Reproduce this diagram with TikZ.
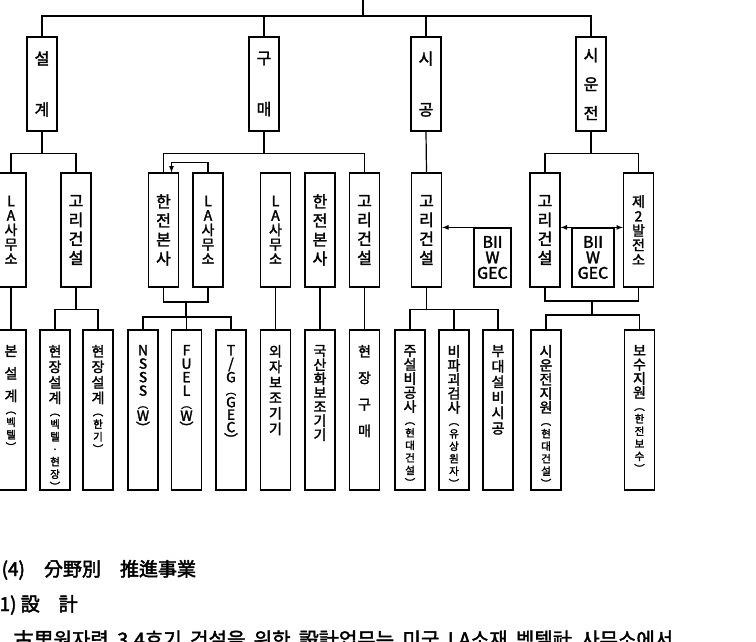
\documentclass[tikz,border=0pt]{standalone}
\usepackage{fontspec}
\setmainfont{Noto Sans CJK KR}
\newfontfamily\boxfont{Noto Sans CJK KR}[FakeBold=2]
\newfontfamily\headfont{Noto Sans CJK KR}[FakeBold=2.5]
\newcommand{\lowcol}[1]{\parbox[c][160pt][t]{30pt}{\centering\boxfont\fontsize{14}{14.5}\selectfont\vspace*{15pt}#1\par}}
\newcommand{\paren}[1]{\par{\fontsize{10.5}{12.5}\selectfont ︵\\#1\\︶\par}}
\begin{document}
\begin{tikzpicture}[x=1pt,y=-1pt,line width=1.2pt,>=latex,
    bus/.style={to path={-- ++(0,#1) -| (\tikztotarget)}}]
    \tikzstyle{head}=[draw,text width=30pt,align=center,inner sep=0pt,minimum height=94pt,font=\boxfont\fontsize{16}{16}\selectfont]
    \tikzstyle{mid}=[draw,text width=30pt,align=center,inner sep=0pt,minimum height=114pt,font=\boxfont\fontsize{16}{19}\selectfont]
    \tikzstyle{tight}=[font=\boxfont\fontsize{14}{14.5}\selectfont]
    \tikzstyle{firm}=[draw,align=center,inner sep=0pt,minimum height=59pt,font=\boxfont\fontsize{16}{15.5}\selectfont]
    \tikzstyle{low}=[draw,inner sep=0pt]
    \tikzstyle{prose}=[anchor=base west,inner sep=0pt]
    \useasboundingbox (0,0) rectangle (756,641);
    \clip (0,0) rectangle (756,641);
    \begin{scope}
        \coordinate (top) at (363,0);
        \node [head] (design) at (42,84) {설\\[35pt]계};
        \node [head] (purch) at (264,84) {구\\[35pt]매};
        \node [head] (constr) at (426,84) {시\\[35pt]공};
        \node [head] (comm) at (591,84) {시\\[13pt]운\\[13pt]전};

        \node [mid,tight] (dLA) at (11,230) {L\\A\\사\\무\\소};
        \node [mid] (dKori) at (76,230) {고\\리\\건\\설};
        \node [mid] (pKepco) at (163.5,230) {한\\전\\본\\사};
        \node [mid,tight] (pLA) at (208,230) {L\\A\\사\\무\\소};
        \node [mid,tight] (pLA2) at (275.5,230) {L\\A\\사\\무\\소};
        \node [mid] (pKepco2) at (320,230) {한\\전\\본\\사};
        \node [mid] (pKori) at (364.5,230) {고\\리\\건\\설};
        \node [mid] (cKori) at (426.5,230) {고\\리\\건\\설};
        \node [firm,text width=37pt] (cBW) at (492.5,257.5) {BII\\W\\GEC};
        \node [mid] (tKori) at (545,230) {고\\리\\건\\설};
        \node [firm,text width=42pt] (tBW) at (593,257.5) {BII\\W\\GEC};
        \node [mid,tight] (tPlant) at (638.5,230) {제\\2\\발\\전\\소};

        \node [low] (dMain) at (11,410) {\lowcol{본\\[8pt]설\\[8pt]계\paren{벡\\텔}}};
        \node [low] (dSite1) at (55,410) {\lowcol{현\\[1pt]장\\[1pt]설\\[1pt]계\paren{벡\\텔\\·\\현\\장}}};
        \node [low] (dSite2) at (98,410) {\lowcol{현\\[1pt]장\\[1pt]설\\[1pt]계\paren{한\\기}}};
        \node [low] (pNSSS) at (143,410) {\lowcol{N\\[-1pt]S\\[-1pt]S\\[-1pt]S\paren{\fontsize{14}{12.5}\selectfont W}}};
        \node [low] (pFuel) at (186.5,410) {\lowcol{F\\[-1pt]U\\[-1pt]E\\[-1pt]L\paren{\fontsize{14}{12.5}\selectfont W}}};
        \node [low] (pTG) at (231,410) {\lowcol{T\\[-1pt]/\\[-1pt]G\paren{\fontsize{14}{12.5}\selectfont G\\E\\C}}};
        \node [low] (pForeign) at (275.5,410) {\lowcol{외\\[1pt]자\\[1pt]보\\[1pt]조\\[1pt]기\\[1pt]기}};
        \node [low] (pLocal) at (320,410) {\lowcol{국\\[-0.5pt]산\\[-0.5pt]화\\[-0.5pt]보\\[-0.5pt]조\\[-0.5pt]기\\[-0.5pt]기}};
        \node [low] (pSite) at (364.5,410) {\lowcol{현\\[12pt]장\\[12pt]구\\[12pt]매}};
        \node [low] (cMain) at (410,410) {\lowcol{주\\[-0.5pt]설\\[-0.5pt]비\\[-0.5pt]공\\[-0.5pt]사\paren{현\\대\\건\\설}}};
        \node [low] (cNDT) at (454,410) {\lowcol{비\\[-0.5pt]파\\[-0.5pt]괴\\[-0.5pt]검\\[-0.5pt]사\paren{유\\상\\원\\자}}};
        \node [low] (cAux) at (498,410) {\lowcol{부\\[1pt]대\\[1pt]설\\[1pt]비\\[1pt]시\\[1pt]공}};
        \node [low] (tSupport) at (546,410) {\lowcol{시\\[-0.5pt]운\\[-0.5pt]전\\[-0.5pt]지\\[-0.5pt]원\paren{현\\대\\건\\설}}};
        \node [low] (tMaint) at (639.5,410) {\lowcol{보\\[-0.5pt]수\\[-0.5pt]지\\[-0.5pt]원\paren{한\\전\\보\\수}}};

        \coordinate (pJoin) at (186,302);
        \coordinate (tJoin) at (592,301);

        \draw (top) edge[bus=16] (design.north) edge[bus=16] (purch.north)
            edge[bus=16] (constr.north) edge[bus=16] (comm.north);
        \draw (design.south) edge[bus=22] (dLA.north) edge[bus=22] (dKori.north);
        \draw (purch.south) edge[bus=22] (pKepco.north) edge[bus=22] (pKori.north);
        \draw (constr.south) -- (cKori.north);
        \draw (comm.south) edge[bus=22] (tKori.north) edge[bus=22] (tPlant.north);
        \draw[->] (pLA.north) -- ++(0,-10) -| ([xshift=8pt]pKepco.north);
        \draw[->] (cBW.north west) -- (cBW.north west -| cKori.east);
        \draw[<->] (tBW.north -| tKori.east) -- (tBW.north -| tPlant.west);

        \draw (dLA.south) -- (dMain.north);
        \draw (dKori.south) edge[bus=22] (dSite1.north) edge[bus=22] (dSite2.north);
        \draw (pKepco.south) |- (pJoin) -| (pLA.south);
        \draw (pJoin) edge[bus=15] (pNSSS.north) edge[bus=15] (pFuel.north) edge[bus=15] (pTG.north);
        \draw (pLA2.south) -- (pForeign.north);
        \draw (pKepco2.south) -- (pLocal.north);
        \draw (pKori.south) -- (pSite.north);
        \draw (cKori.south) edge[bus=22] (cMain.north) edge[bus=22] (cNDT.north) edge[bus=22] (cAux.north);
        \draw (tKori.south) |- (tJoin) -| (tPlant.south);
        \draw (tJoin) edge[bus=14] (tSupport.north) edge[bus=14] (tMaint.north);

        \node [prose,font=\headfont\fontsize{19}{22}\selectfont] (sec) at (1,576) {(4)\quad 分野別\quad 推進事業};
        \node [prose,font=\headfont\fontsize{19}{22}\selectfont] (sub) at (-1,611) {1) 設\quad 計};
        \node [prose,font=\boxfont\fontsize{20}{22}\selectfont] (body) at (13,647) {\spaceskip=0.42em\relax 古里원자력 3,4호기 건설을 위한 設計업무는 미국 LA소재 벡텔社 사무소에서};
    \end{scope}
\end{tikzpicture}
\end{document}
